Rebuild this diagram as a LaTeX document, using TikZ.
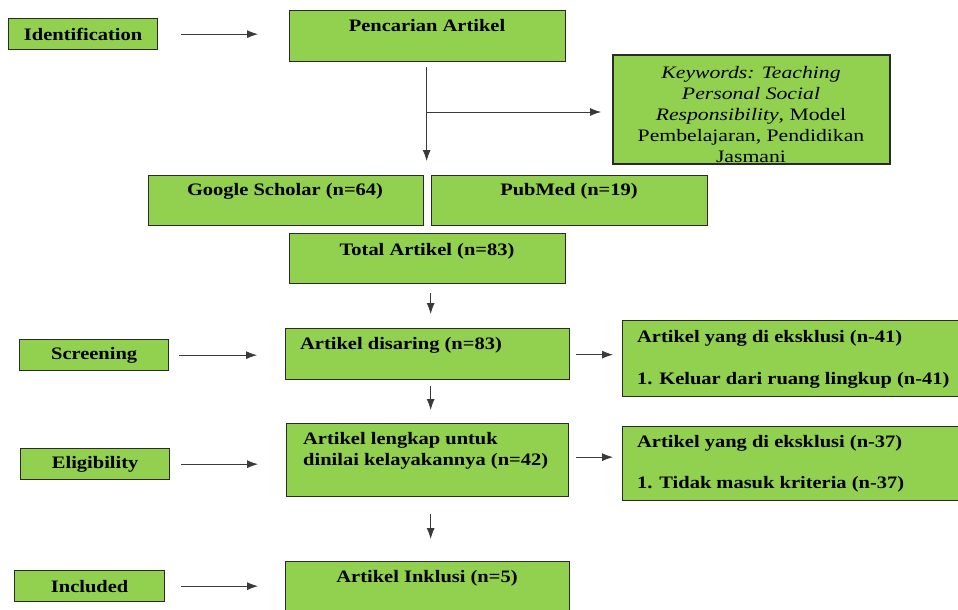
\documentclass[tikz,border=0pt]{standalone}
\usepackage{fontspec}
\setmainfont{Liberation Serif}
\usetikzlibrary{arrows.meta,calc}
\definecolor{boxgreen}{HTML}{92D050}
\definecolor{edge}{HTML}{2A2A2A}
\definecolor{arrowc}{HTML}{3A3A3A}
\newcommand\wfont{\fontsize{17.5}{21}\selectfont}
\newcommand\wide[1]{\scalebox{1.17}[1]{#1}}
\newcommand\kwide[1]{\scalebox{1.24}[1]{#1}}
\tikzset{
  box/.style={draw=edge, fill=boxgreen, line width=1.3pt, rectangle, inner sep=0pt, anchor=north west},
  txt/.style={inner sep=0pt, font=\wfont\bfseries, align=center},
  ltxt/.style={inner sep=0pt, font=\wfont\bfseries, align=left, anchor=west},
  kwtxt/.style={inner sep=0pt, font=\wfont, align=center},
  arr/.style={draw=arrowc, line width=0.8pt, -{Latex[length=11pt,width=8pt]}},
  ln/.style={draw=arrowc, line width=0.8pt}
}
\newcommand\mkbox[5]{\node[box, minimum width=#4-#2, minimum height=#5-#3] (#1) at (#2,#3) {};}
\begin{document}
\begin{tikzpicture}[x=1pt,y=-1pt]
\useasboundingbox (0,0) rectangle (958,610);
% left stage boxes
\mkbox{id}{8}{18}{157}{49}
\node[txt] (idt) at (id.center) {\wide{Identification}};
\mkbox{sc}{19}{339}{168}{370}
\node[txt] (sct) at (sc.center) {\wide{Screening}};
\mkbox{el}{20}{448}{169}{479}
\node[txt] (elt) at (el.center) {\wide{Eligibility}};
\mkbox{in}{14}{570}{164}{601}
\node[txt] (int) at (in.center) {\wide{Included}};
% main column
\mkbox{pa}{289}{10}{565}{61}
\node[txt] (pat) at (427,26) {\wide{Pencarian Artikel}};
\mkbox{kw}{613}{55}{889}{163}
\begin{scope}
\clip (kw.north west) rectangle (kw.south east);
\node[kwtxt, anchor=north] (kwt) at (751,66) {\kwide{\itshape Keywords: Teaching}\\\kwide{\itshape Personal Social}\\\kwide{{\itshape Responsibility}, Model}\\\kwide{Pembelajaran, Pendidikan}\\\kwide{Jasmani}};
\end{scope}
\draw[draw=edge, line width=1.3pt] (kw.north west) rectangle (kw.south east);
\mkbox{gs}{148}{175}{423}{225}
\node[txt] (gst) at (285,191) {\wide{Google Scholar (n=64)}};
\mkbox{pm}{431}{175}{707}{225}
\node[txt] (pmt) at (569,191) {\wide{PubMed (n=19)}};
\mkbox{ta}{289}{233}{565}{283}
\node[txt] (tat) at (427,251) {\wide{Total Artikel (n=83)}};
\mkbox{ds}{285}{328}{569}{379}
\node[ltxt] (dst) at (300,345) {\wide{Artikel disaring (n=83)}};
\mkbox{lk}{286}{423}{568}{496}
\node[ltxt, anchor=north west] (lkt) at (303,432) {\wide{Artikel lengkap untuk}\\\wide{dinilai kelayakannya (n=42)}};
\mkbox{ik}{285}{561}{569}{614}
\node[txt] (ikt) at (427,578) {\wide{Artikel Inklusi (n=5)}};
% exclusion boxes
\mkbox{ex1}{622}{320}{963}{396}
\node[ltxt] (ex1a) at (637,338) {\wide{Artikel yang di eksklusi (n-41)}};
\node[ltxt] (ex1b) at (637,380) {\wide{1. Keluar dari ruang lingkup (n-41)}};
\mkbox{ex2}{622}{426}{963}{500}
\node[ltxt] (ex2a) at (637,443) {\wide{Artikel yang di eksklusi (n-37)}};
\node[ltxt] (ex2b) at (637,484) {\wide{1. Tidak masuk kriteria (n-37)}};
% connectors
\draw[arr, shorten <=23pt, shorten >=31pt] (id.east) -- (id.east -| pa.west);
\draw[arr, shorten <=10pt, shorten >=28pt] (sc.east) -- (sc.east -| ds.west);
\draw[arr, shorten <=11pt, shorten >=28pt] (el.east) -- (el.east -| lk.west);
\draw[arr, shorten <=16pt, shorten >=27pt] (in.east) -- (in.east -| ik.west);
\coordinate (top) at ([xshift=-1pt]pa.south);
\coordinate (br) at (426,112);
\draw[arr, shorten <=5pt, shorten >=14pt] (top) -- (top |- gs.north);
\draw[arr, shorten >=12pt] (br) -- (br -| kw.west);
\draw[arr, shorten <=9pt, shorten >=14pt] ([xshift=3pt]ta.south) -- ([xshift=3pt]ta.south |- ds.north);
\draw[arr, shorten <=6pt, shorten >=13pt] ([xshift=3pt]ta.south |- ds.south) -- ([xshift=3pt]ta.south |- lk.north);
\draw[arr, shorten <=17pt, shorten >=22pt] ([xshift=3pt]ta.south |- lk.south) -- ([xshift=3pt]ta.south |- ik.north);
\draw[arr, shorten <=6pt, shorten >=9pt] ([yshift=-0.5pt]ds.east) -- ([yshift=-0.5pt]ds.east -| ex1.west);
\draw[arr, shorten <=7pt, shorten >=9pt] ([yshift=3pt]lk.east) -- ([yshift=3pt]lk.east -| ex2.west);
\end{tikzpicture}
\end{document}
